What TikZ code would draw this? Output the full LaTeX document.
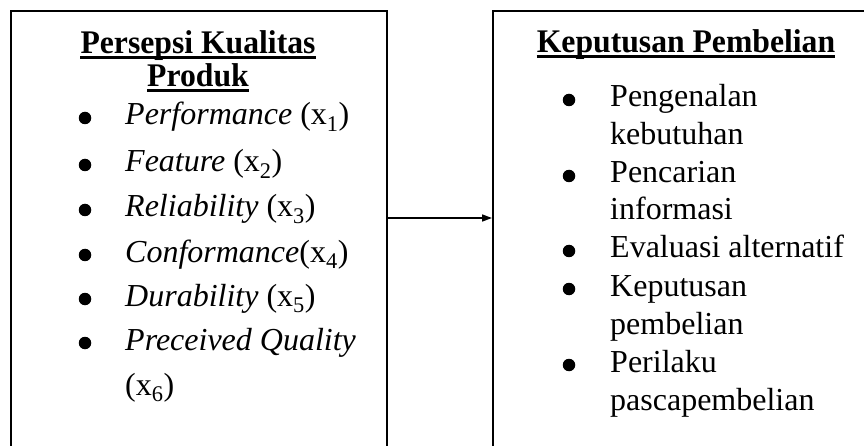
\documentclass[tikz,border=0pt]{standalone}
\usepackage{fontspec}
\setmainfont{Liberation Serif}
\newfontfamily\headfont{Liberation Serif}[FakeStretch=0.96]
\usetikzlibrary{arrows.meta,positioning}

\begin{document}
\begin{tikzpicture}[x=1pt, y=-1pt,
    box/.style={rectangle, draw=black, line width=1.6pt, minimum height=520pt, inner sep=0pt, anchor=north west},
    heading/.style={font=\fontsize{33}{38}\headfont\bfseries, inner sep=0pt, anchor=base},
    item/.style={font=\fontsize{32}{38}\selectfont, inner sep=0pt, anchor=base west},
    dot/.style={circle, fill=black, inner sep=0pt, minimum size=12.5pt},
    ulbar/.style={line width=2.6pt},
    link/.style={-{Triangle[length=10pt, width=7pt]}, line width=1.6pt},
  ]
    \useasboundingbox (0,0) rectangle (864,446);
    \clip (0,0) rectangle (864,446);
    \node[box, minimum width=376pt] (kualitas) at (10,10) {};
    \node[box, minimum width=390pt] (keputusan) at (492,10) {};
    \node[heading] (hk1) at (198,54) {Persepsi Kualitas};
    \node[heading] (hk2) at (198,87) {Produk};
    \node[heading] (hp) at (686,53) {Keputusan Pembelian};
    \draw[ulbar] ([yshift=-3.5pt]hk1.base west) -- ([yshift=-3.5pt]hk1.base east);
    \draw[ulbar] ([yshift=-3.5pt]hk2.base west) -- ([yshift=-3.5pt]hk2.base east);
    \draw[ulbar] ([yshift=-3.5pt]hp.base west) -- ([yshift=-3.5pt]hp.base east);
    \node[dot] (d1) at (85,118) {};
    \node[item] (x1) at (125,125) {\textit{Performance} (x\textsubscript{1})};
    \node[dot] (d2) at (85,165) {};
    \node[item] (x2) at (125,172) {\textit{Feature} (x\textsubscript{2})};
    \node[dot] (d3) at (85,210) {};
    \node[item] (x3) at (125,217) {\textit{Reliability} (x\textsubscript{3})};
    \node[dot] (d4) at (85,255) {};
    \node[item] (x4) at (125,262) {\textit{Conformance}(x\textsubscript{4})};
    \node[dot] (d5) at (85,299) {};
    \node[item] (x5) at (125,306) {\textit{Durability} (x\textsubscript{5})};
    \node[dot] (d6) at (85,343) {};
    \node[item] (x6a) at (125,350) {\textit{Preceived Quality}};
    \node[item] (x6b) at (125,395) {(x\textsubscript{6})};
    \node[dot] (e1) at (569,100) {};
    \node[item] (y1a) at (610,107) {Pengenalan};
    \node[item] (y1b) at (610,145) {kebutuhan};
    \node[dot] (e2) at (569,176) {};
    \node[item] (y2a) at (610,183) {Pencarian};
    \node[item] (y2b) at (610,220) {informasi};
    \node[dot] (e3) at (569,251) {};
    \node[item] (y3) at (610,258) {Evaluasi alternatif};
    \node[dot] (e4) at (569,289) {};
    \node[item] (y4a) at (610,296) {Keputusan};
    \node[item] (y4b) at (610,334) {pembelian};
    \node[dot] (e5) at (569,365) {};
    \node[item] (y5a) at (610,372) {Perilaku};
    \node[item] (y5b) at (610,410) {pascapembelian};
    \coordinate (mid) at (440,218);
    \draw[link] (kualitas.east |- mid) -- (keputusan.west |- mid);
  \end{tikzpicture}
\end{document}
